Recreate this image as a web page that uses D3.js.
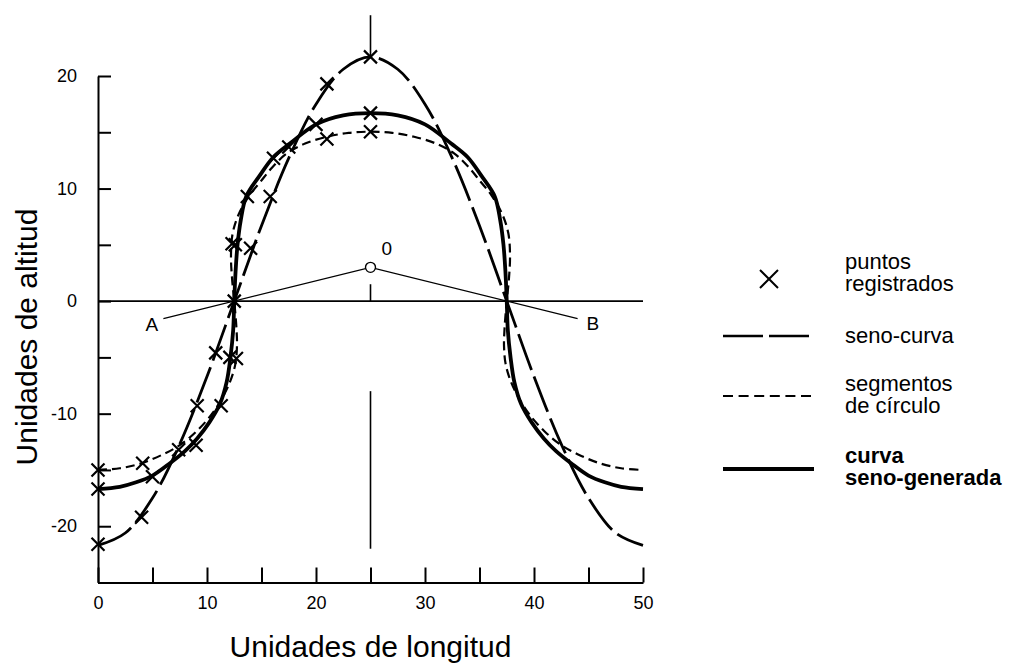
<!DOCTYPE html>
<html>
<head>
<meta charset="utf-8">
<script src="https://cdn.jsdelivr.net/npm/d3@7"></script>
<style>
  body { margin: 0; background: #fff; }
  svg { display: block; font-family: "Liberation Sans", Arial, Helvetica, sans-serif; }
</style>
</head>
<body>
<svg id="chart" width="1009" height="665"></svg>
<script>
// tick values / labels
const xTickValues = [0, 5, 10, 15, 20, 25, 30, 35, 40, 45, 50];
const xTickLabels = [0, 10, 20, 30, 40, 50];
const yTickValues = [-25, -20, -15, -10, -5, 0, 5, 10, 15, 20];
const yTickLabels = [-20, -10, 0, 10, 20];

// seno-curva (long dash)
const senoX = [0, 2.5, 5, 7.5, 10, 12.5, 15, 17.5, 20, 22.5, 25, 27.5, 30, 32.5, 35, 37.5, 40, 42.5, 45, 47.5, 50];
const senoY = [-21.7, -20.6, -17.5, -12.7, -6.7, 0, 6.7, 12.7, 17.5, 20.6, 21.7, 20.6, 17.5, 12.7, 6.7, 0, -6.7, -12.7, -17.5, -20.6, -21.7];

// segmentos de circulo (short dash), points along the path
const circlePts = [
  [0, -15.0], [2, -14.85], [4, -14.4], [6, -13.6], [7.5, -12.8], [9, -11.6], [10.4, -10.1], [11.4, -8.6],
  [12.1, -7.2], [12.6, -5.6], [12.75, -4.0], [12.7, -2.4], [12.5, 0], [12.3, 2.0], [12.2, 4.0], [12.35, 6.0],
  [12.9, 7.7], [13.9, 9.4], [14.9, 10.6], [16.0, 11.9], [17.3, 13.1], [19.0, 14.0], [21.0, 14.6], [23.0, 14.95],
  [25, 15.05],
  [27.0, 14.95], [29.0, 14.6], [31.0, 14.0], [32.7, 13.1], [34.0, 11.9], [35.1, 10.6], [36.1, 9.4], [37.1, 7.7],
  [37.65, 6.0], [37.8, 4.0], [37.7, 2.0], [37.5, 0], [37.3, -2.4], [37.25, -4.0], [37.4, -5.6], [37.9, -7.2],
  [38.6, -8.6], [39.6, -10.1], [41.0, -11.6], [42.5, -12.8], [44.0, -13.6], [46.0, -14.4], [48.0, -14.85], [50, -15.0]
];

// curva seno-generada (thick solid)
const generadaPts = [
  [0, -16.7], [2, -16.5], [3.5, -16.1], [5, -15.5], [6.6, -14.4], [8, -13.3], [9.1, -12.2], [10.2, -10.8],
  [11.2, -9.1], [11.8, -7.2], [12.15, -5.0], [12.4, -2.6], [12.5, 0], [12.62, 2.6], [12.8, 5.0], [13.1, 7.2],
  [13.6, 9.3], [14.8, 11.1], [16.1, 12.8], [17.6, 14.0], [20, 15.7], [22.5, 16.5], [25, 16.7],
  [27.5, 16.5], [30, 15.7], [32.4, 14.0], [33.9, 12.8], [35.2, 11.1], [36.4, 9.3], [36.9, 7.2], [37.2, 5.0],
  [37.38, 2.6], [37.5, 0], [37.6, -2.6], [37.85, -5.0], [38.2, -7.2], [38.8, -9.1], [39.8, -10.8], [40.9, -12.2],
  [42, -13.3], [43.4, -14.4], [45, -15.5], [46.5, -16.1], [48, -16.5], [50, -16.7]
];

// puntos registrados (x markers)
const registrados = [
  [0, -21.6], [4, -19.2], [9.1, -9.3], [10.8, -4.6], [12.5, 0], [14.0, 4.7], [15.8, 9.3], [21, 19.3], [25, 21.7],
  [0, -16.7], [5, -15.6], [7.4, -13.2], [11.3, -9.3], [12.1, -5.0], [12.3, 5.1], [13.7, 9.3], [16.1, 12.7], [20, 15.7], [25, 16.7],
  [0, -15.0], [4.1, -14.4], [9.0, -12.8], [12.7, -5.1], [12.6, 5.0], [17.5, 13.7], [21, 14.4], [25, 15.05]
];

// reference construction lines
const zeroLine = [[0, 0], [50, 0]];
const verticals = [
  [[25, 25.4], [25, 21.8]],
  [[25, 0], [25, 1.5]],
  [[25, -8], [25, -22]]
];
const radii = [[6, -1.56], [25, 3], [44, -1.56]];
const centerO = [25, 3];
const pointLabels = [
  { text: '0', x: 26.5, y: 4.7 },
  { text: 'A', x: 4.95, y: -2.1 },
  { text: 'B', x: 45.4, y: -2.0 }
];

const svg = d3.select('#chart');
const x = d3.scaleLinear().domain([0, 50]).range([98, 643]);
const y = d3.scaleLinear().domain([-25, 20]).range([582.5, 76]);

// axes
const xAxis = d3.axisBottom(x)
  .tickValues(xTickValues)
  .tickSize(-15)
  .tickSizeOuter(0)
  .tickPadding(14)
  .tickFormat(d => xTickLabels.includes(d) ? d : '');

const yAxis = d3.axisLeft(y)
  .tickValues(yTickValues)
  .tickSize(-13)
  .tickSizeOuter(0)
  .tickPadding(21)
  .tickFormat(d => yTickLabels.includes(d) ? d : '');

const gx = svg.append('g')
  .attr('transform', `translate(0,${y(-25)})`)
  .call(xAxis);

const gy = svg.append('g')
  .attr('transform', `translate(${x(0)},0)`)
  .call(yAxis);

[gx, gy].forEach(g => {
  g.attr('font-family', null).attr('font-size', 18);
  g.selectAll('path, line').attr('stroke', '#000').attr('stroke-width', 2);
  g.selectAll('text').attr('fill', '#000');
});

// axis titles
svg.append('text')
  .attr('x', x(25))
  .attr('y', 657)
  .attr('text-anchor', 'middle')
  .attr('font-size', 30)
  .text('Unidades de longitud');

svg.append('text')
  .attr('transform', 'translate(37,337) rotate(-90)')
  .attr('text-anchor', 'middle')
  .attr('font-size', 30)
  .text('Unidades de altitud');

// construction lines
const line = d3.line().x(d => x(d[0])).y(d => y(d[1]));

svg.append('path')
  .attr('d', line(zeroLine))
  .attr('fill', 'none')
  .attr('stroke', '#000')
  .attr('stroke-width', 1.6);

svg.selectAll('path.vert')
  .data(verticals)
  .join('path')
  .attr('class', 'vert')
  .attr('d', line)
  .attr('fill', 'none')
  .attr('stroke', '#000')
  .attr('stroke-width', 1.6);

svg.append('path')
  .attr('d', line(radii))
  .attr('fill', 'none')
  .attr('stroke', '#000')
  .attr('stroke-width', 1.2);

// curves
const senoLine = d3.line()
  .x((d, i) => x(senoX[i]))
  .y(d => y(d))
  .curve(d3.curveCatmullRom.alpha(0.5));

svg.append('path')
  .attr('d', senoLine(senoY))
  .attr('fill', 'none')
  .attr('stroke', '#000')
  .attr('stroke-width', 2.8)
  .attr('stroke-dasharray', '38,7');

const smooth = d3.line()
  .x(d => x(d[0]))
  .y(d => y(d[1]))
  .curve(d3.curveCatmullRom.alpha(0.5));

svg.append('path')
  .attr('d', smooth(circlePts))
  .attr('fill', 'none')
  .attr('stroke', '#000')
  .attr('stroke-width', 2.2)
  .attr('stroke-dasharray', '9,5');

svg.append('path')
  .attr('d', smooth(generadaPts))
  .attr('fill', 'none')
  .attr('stroke', '#000')
  .attr('stroke-width', 3.8);

// markers
const cross = s => `M${-s},${-s}L${s},${s}M${-s},${s}L${s},${-s}`;

svg.selectAll('path.mark')
  .data(registrados)
  .join('path')
  .attr('class', 'mark')
  .attr('transform', d => `translate(${x(d[0])},${y(d[1])})`)
  .attr('d', cross(6.5))
  .attr('fill', 'none')
  .attr('stroke', '#000')
  .attr('stroke-width', 2.2);

// centre O
svg.append('circle')
  .attr('cx', x(centerO[0]))
  .attr('cy', y(centerO[1]))
  .attr('r', 5)
  .attr('fill', '#fff')
  .attr('stroke', '#000')
  .attr('stroke-width', 1.4);

svg.selectAll('text.plabel')
  .data(pointLabels)
  .join('text')
  .attr('class', 'plabel')
  .attr('x', d => x(d.x))
  .attr('y', d => y(d.y))
  .attr('dy', '0.35em')
  .attr('text-anchor', 'middle')
  .attr('font-size', 19)
  .text(d => d.text);

// legend
const legend = svg.append('g');

legend.append('path')
  .attr('transform', 'translate(769,279)')
  .attr('d', cross(9))
  .attr('fill', 'none')
  .attr('stroke', '#000')
  .attr('stroke-width', 2);

const legendLines = [
  { y: 336, dash: '40,6', width: 2.6 },
  { y: 396, dash: '10,5.6', width: 2.2 },
  { y: 469, dash: null, width: 4 }
];

legend.selectAll('line')
  .data(legendLines)
  .join('line')
  .attr('x1', 723)
  .attr('x2', 814)
  .attr('y1', d => d.y)
  .attr('y2', d => d.y)
  .attr('stroke', '#000')
  .attr('stroke-width', d => d.width)
  .attr('stroke-dasharray', d => d.dash);

const legendText = [
  { text: 'puntos', y: 269, bold: false },
  { text: 'registrados', y: 291, bold: false },
  { text: 'seno-curva', y: 343, bold: false },
  { text: 'segmentos', y: 391, bold: false },
  { text: 'de círculo', y: 413, bold: false },
  { text: 'curva', y: 463, bold: true },
  { text: 'seno-generada', y: 485, bold: true }
];

legend.selectAll('text')
  .data(legendText)
  .join('text')
  .attr('x', 845)
  .attr('y', d => d.y)
  .attr('font-size', 22)
  .attr('font-weight', d => d.bold ? 'bold' : null)
  .text(d => d.text);
</script>
</body>
</html>
